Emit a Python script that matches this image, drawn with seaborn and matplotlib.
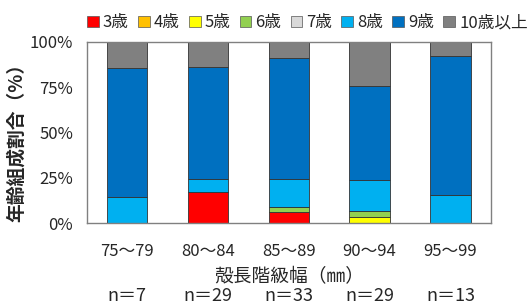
import numpy as np
import pandas as pd
import matplotlib
matplotlib.use('Agg')
import matplotlib.pyplot as plt
import seaborn as sns
from matplotlib.patches import Patch

# 殻長階級幅ごとの年齢組成（%）
classes = ['75～79', '80～84', '85～89', '90～94', '95～99']
n_list = [7, 29, 33, 29, 13]
ages = ['3歳', '4歳', '5歳', '6歳', '7歳', '8歳', '9歳', '10歳以上']
age3 = [0.0, 17.2, 6.1, 0.0, 0.0]
age4 = [0.0, 0.0, 0.0, 0.0, 0.0]
age5 = [0.0, 0.0, 0.0, 3.4, 0.0]
age6 = [0.0, 0.0, 3.0, 3.4, 0.0]
age7 = [0.0, 0.0, 0.0, 0.0, 0.0]
age8 = [14.3, 6.9, 15.2, 17.2, 15.4]
age9 = [71.4, 62.1, 66.7, 51.7, 76.9]
age10 = [14.3, 13.8, 9.1, 24.1, 7.7]
colors = ['#FF0000', '#FFC000', '#FFFF00', '#92D050', '#D9D9D9', '#00B0F0', '#0070C0', '#808080']

sns.set_style('white')
plt.rcParams['font.family'] = ['Noto Sans CJK JP', 'DejaVu Sans']

df = pd.DataFrame({'class': classes, '3歳': age3, '4歳': age4, '5歳': age5, '6歳': age6,
                   '7歳': age7, '8歳': age8, '9歳': age9, '10歳以上': age10})

fig = plt.figure(figsize=(5.3, 3.06), dpi=100)
ax = fig.add_axes([0.164, 0.271, 0.762, 0.592])

bottom = np.zeros(len(classes))
for age, c in zip(ages, colors):
    sns.barplot(data=df, x='class', y=age, color=c, bottom=bottom, width=0.5,
                edgecolor='#333333', linewidth=0.6, ax=ax, saturation=1)
    bottom = bottom + df[age].values

ax.set_ylim(0, 100)
ax.set_xlim(-0.5, 4.5)
ax.set_yticks([0, 25, 50, 75, 100])
ax.set_yticklabels(['0%', '25%', '50%', '75%', '100%'], fontsize=12)
ax.tick_params(axis='x', labelsize=12, pad=14, length=0)
ax.tick_params(axis='y', length=0, pad=10)
ax.set_xlabel('殻長階級幅（㎜）', fontsize=13.5, labelpad=5)
ax.set_ylabel('年齢組成割合（%）', fontsize=13.5, fontweight='bold')
ax.yaxis.set_label_coords(-0.152, 0.47)
for s in ax.spines.values():
    s.set_color('#808080')
    s.set_linewidth(1)

for i, n in enumerate(n_list):
    ax.text(i, -0.405, f'n＝{n}', transform=ax.get_xaxis_transform(),
            ha='center', va='center', fontsize=13)

handles = [Patch(facecolor=c, edgecolor='#555555', linewidth=0.5) for c in colors]
fig.legend(handles, ages, loc='center', bbox_to_anchor=(0.58, 0.925), ncol=8,
           frameon=False, fontsize=12, handlelength=0.7, handleheight=0.7,
           handletextpad=0.25, columnspacing=0.55)

fig.savefig('out.png', dpi=100)
